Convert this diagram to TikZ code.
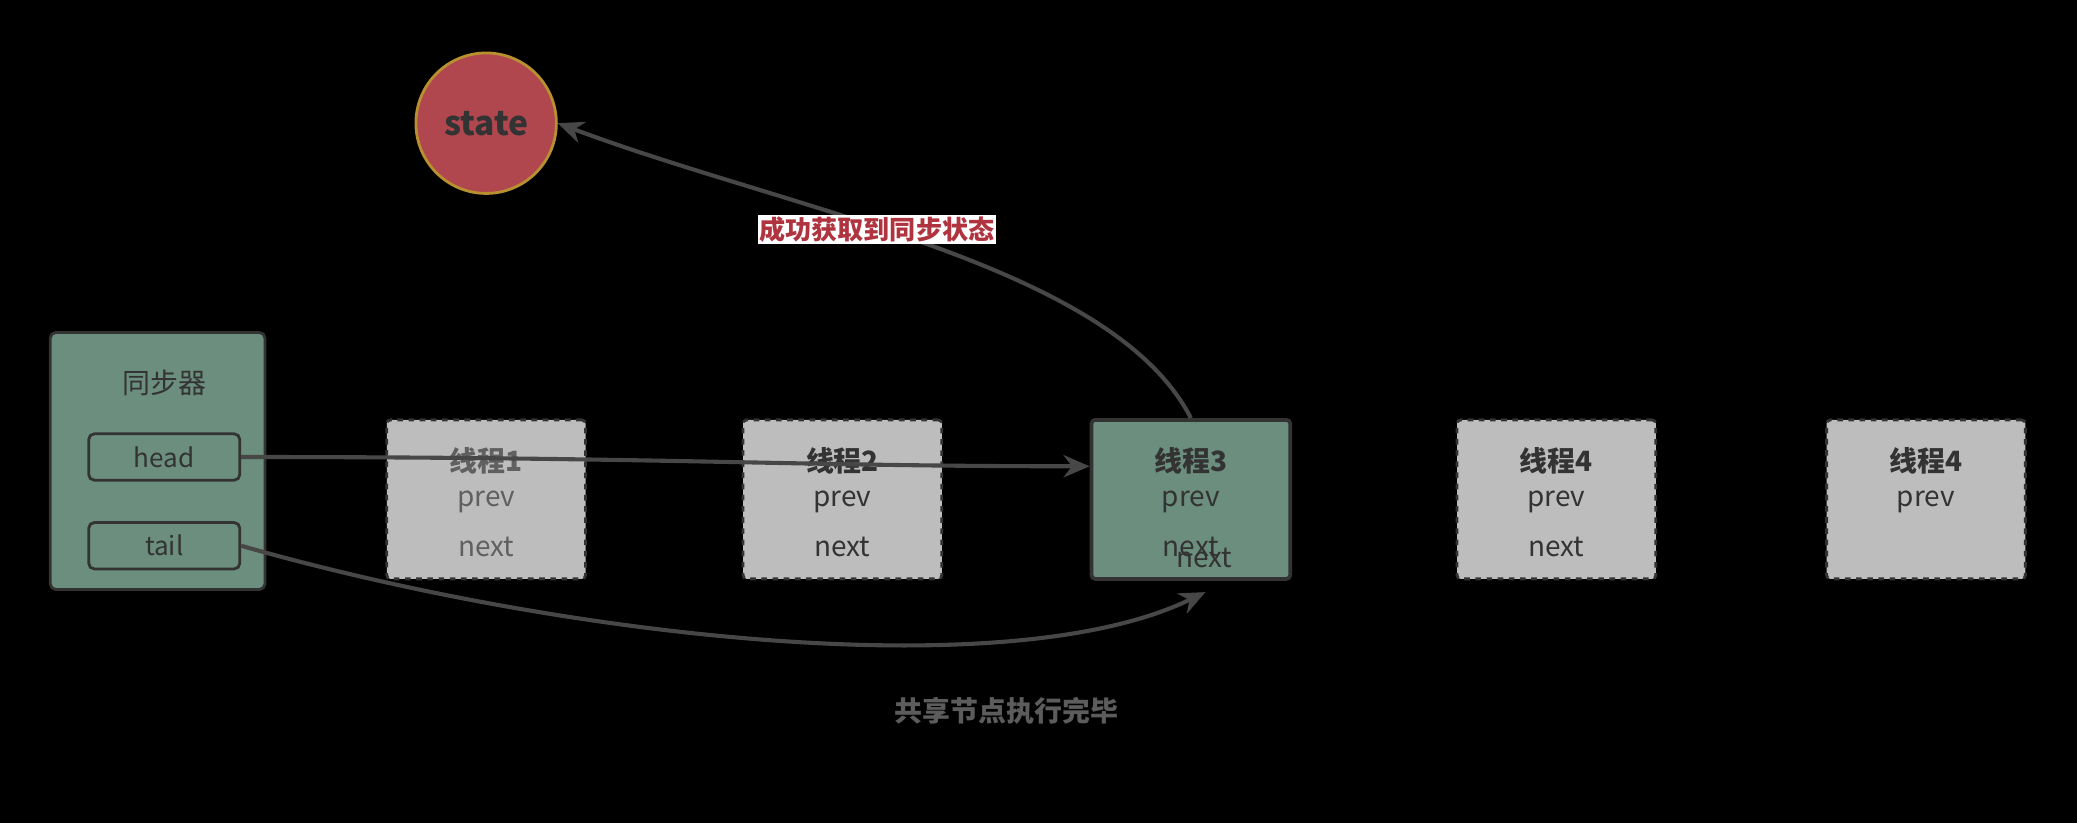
\documentclass[tikz,border=0pt]{standalone}
\usepackage{fontspec}
\setmainfont{Noto Sans CJK SC}
\usetikzlibrary{arrows.meta}
\definecolor{grn}{HTML}{6B8E7F}
\definecolor{gry}{HTML}{BDBDBD}
\definecolor{dk}{HTML}{333333}
\definecolor{stred}{HTML}{B0474F}
\definecolor{gold}{HTML}{B8902F}
\definecolor{lred}{HTML}{B0343F}
\tikzset{
 tbox/.style={draw=dk,line width=1.5pt,rounded corners=2pt,minimum width=3.75cm,minimum height=3cm,inner sep=0},
 pbox/.style={draw=dk,line width=1.5pt,rounded corners=3pt,minimum width=2.85cm,minimum height=0.875cm,font=\fontsize{14}{16}\selectfont,text=dk},
 lbl/.style={font=\fontsize{15}{18}\selectfont,text=dk},
 ttl/.style={font=\fontsize{15}{18}\selectfont\bfseries,text=dk},
 con/.style={draw=dk!90!white,line width=2.2pt,-{Stealth[length=14pt,width=12pt]}}
}
\begin{document}
\begin{tikzpicture}[x=0.025cm,y=-0.025cm]
\fill[black] (0,0) rectangle (1568,621);
\useasboundingbox (0,0) rectangle (1568,621);
\node[circle,fill=stred,draw=gold,line width=1.5pt,minimum size=2.65cm,font=\fontsize{18}{20}\selectfont\bfseries,text=dk] (st) at (367,93) {state};
\node[draw=dk,line width=1.5pt,rounded corners=3pt,fill=grn,minimum width=4.05cm,minimum height=4.85cm] (sync) at (119,348) {};
\node[lbl] (synct) at (124,289) {同步器};
\node[pbox] (head) at (124,345) {head};
\node[pbox] (tail) at (124,412) {tail};
\node[tbox,fill=gry,dashed] (t1) at (367,377) {};
\node[tbox,fill=gry,dashed] (t2) at (636,377) {};
\node[tbox,fill=grn,line width=2pt] (t3) at (899,377) {};
\node[tbox,fill=gry,dashed] (t4) at (1175,377) {};
\node[tbox,fill=gry,dashed] (t5) at (1454,377) {};
\node[ttl,text=gray!75!black] (t1a) at (367,348) {线程1};
\node[lbl,text=gray!75!black] (t1b) at (367,379) {prev};
\node[lbl,text=gray!75!black] (t1c) at (367,413) {next};
\node[ttl] (t2a) at (636,348) {线程2};
\node[lbl] (t2b) at (636,379) {prev};
\node[lbl] (t2c) at (636,413) {next};
\node[ttl] (t3a) at (899,348) {线程3};
\node[lbl] (t3b) at (899,379) {prev};
\node[lbl] (t3c) at (899,413) {next};
\node[lbl] (t3d) at (909,421) {next};
\node[ttl] (t4a) at (1175,348) {线程4};
\node[lbl] (t4b) at (1175,379) {prev};
\node[lbl] (t4c) at (1175,413) {next};
\node[ttl] (t5a) at (1454,348) {线程4};
\node[lbl] (t5b) at (1454,379) {prev};
\coordinate (tend) at (910,447);
\draw[con] (head.east) .. controls (500,345) and (600,352) .. (t3.west |- 0,352);
\draw[con] (tail.east) .. controls (420,480) and (760,520) .. (tend);
\draw[con] (t3.north) .. controls (840,200) and (600,160) .. (st.east);
\node[fill=white,inner sep=1pt,font=\fontsize{14}{16}\selectfont\bfseries,text=lred] (lab) at (662,173) {成功获取到同步状态};
\node[ttl,text=dk!80!white] (foot) at (760,537) {共享节点执行完毕};
\end{tikzpicture}
\end{document}
